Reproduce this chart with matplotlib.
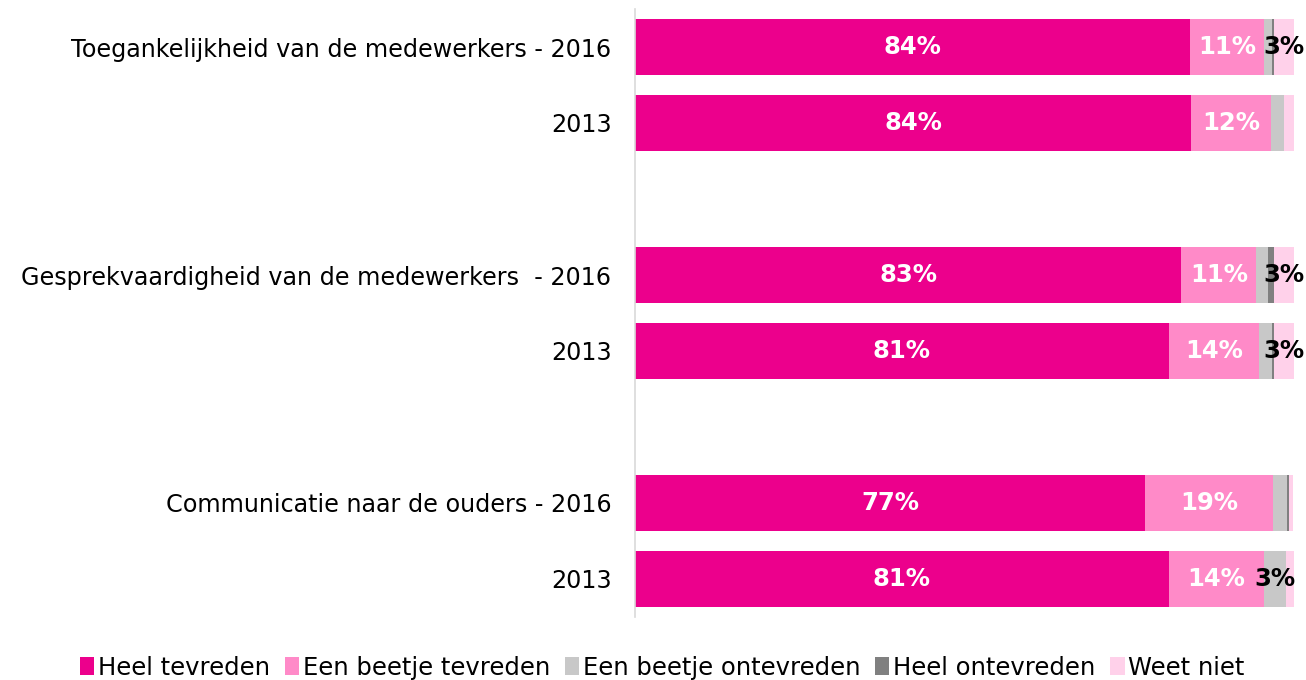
import matplotlib
matplotlib.use("Agg")
import matplotlib.pyplot as plt
from matplotlib.patches import Patch
import numpy as np

categories = ["Toegankelijkheid van de medewerkers - 2016", "2013",
              "Gesprekvaardigheid van de medewerkers  - 2016", "2013",
              "Communicatie naar de ouders - 2016", "2013"]
positions = [0, 1, 3, 4, 6, 7]
series_names = ["Heel tevreden", "Een beetje tevreden", "Een beetje ontevreden",
                "Heel ontevreden", "Weet niet"]
heel_tevreden = [84.2, 84.4, 82.9, 81.0, 77.4, 81.0]
beetje_tevreden = [11.2, 12.1, 11.4, 13.7, 19.4, 14.4]
beetje_ontevreden = [1.2, 2.0, 1.7, 2.0, 2.2, 3.4]
heel_ontevreden = [0.3, 0.0, 0.9, 0.3, 0.2, 0.0]
weet_niet = [3.1, 1.5, 3.1, 3.0, 0.7, 1.2]
colors = ["#EC008C", "#FF8AC8", "#C8C8C8", "#808080", "#FFD1EA"]
label_colors = ["white", "white", "black", "black", "black"]

series = [heel_tevreden, beetje_tevreden, beetje_ontevreden, heel_ontevreden, weet_niet]

fig = plt.figure(figsize=(13.06, 6.8), dpi=100)
ax = fig.add_axes([635/1306, (680-617)/680, (1294-635)/1306, 608/680])

left = np.zeros(len(categories))
for vals, col, lc in zip(series, colors, label_colors):
    vals = np.array(vals)
    ax.barh(positions, vals, left=left, height=0.74, color=col, edgecolor="none")
    for p, l, v in zip(positions, left, vals):
        if round(v) >= 3:
            ax.text(l + v / 2, p, f"{round(v):.0f}%", ha="center", va="center",
                    color=lc, fontsize=17.5, fontweight="bold", family="DejaVu Sans")
    left += vals

ax.set_xlim(0, 100)
ax.set_ylim(7.5, -0.5)
ax.set_yticks(positions)
ax.set_yticklabels(categories, fontsize=17.2, family="DejaVu Sans")
ax.tick_params(axis="y", length=0, pad=17)
ax.set_xticks([])
for s in ["top", "right", "bottom"]:
    ax.spines[s].set_visible(False)
ax.spines["left"].set_color("#D9D9D9")
ax.spines["left"].set_linewidth(1.2)

handles = [Patch(facecolor=c, edgecolor="none") for c in colors]
fig.legend(handles, series_names, loc="center", bbox_to_anchor=(0.507, 0.018),
           ncol=5, frameon=False, handlelength=0.6, handleheight=0.75,
           handletextpad=0.15, columnspacing=0.6,
           prop={"family": "DejaVu Sans", "size": 17.5})

fig.savefig("out.png", dpi=100)
